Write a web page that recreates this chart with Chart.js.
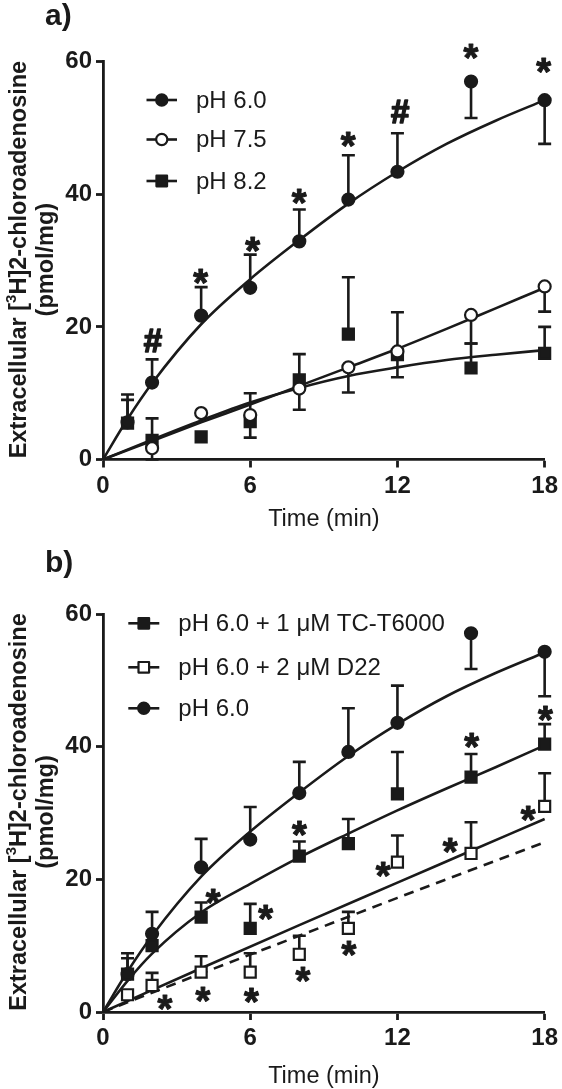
<!DOCTYPE html>
<html><head><meta charset="utf-8">
<script src="https://cdn.jsdelivr.net/npm/chart.js@4.4.1/dist/chart.umd.min.js"></script>
<style>
html,body{margin:0;padding:0;background:#fff;overflow:hidden;}
#wrap{position:relative;width:562px;height:1089px;overflow:hidden;background:#fff;}
.pn{position:absolute;left:0;width:562px;}
</style></head><body>
<div id="wrap">
  <div class="pn" style="top:0;height:545px"><canvas id="ca" width="562" height="545"></canvas></div>
  <div class="pn" style="top:545px;height:550px"><canvas id="cb" width="562" height="550"></canvas></div>
</div>
<script>
const FONT = "'Liberation Sans', Arial, Helvetica, sans-serif";
const INK = '#1a1a1a';

// ---------- shared ticks ----------
const xTicks = [0, 6, 12, 18];
const yTicks = [0, 20, 40, 60];

// ---------- panel a ----------
const timeA = [1, 2, 4, 6, 8, 10, 12, 15, 18];
const aPH60 = [5.6, 11.6, 21.7, 25.9, 32.9, 39.2, 43.4, 57.0, 54.2];
const aPH60Err = [9.8, 15.1, 26.0, 30.9, 37.7, 45.9, 49.2, 51.5, 47.6];
const timeA75 = [2, 4, 6, 8, 10, 12, 15, 18];
const aPH75 = [1.7, 7.0, 6.7, 10.7, 13.9, 16.3, 21.8, 26.1];
const aPH75Err = [0.0, null, 10.0, 7.5, 10.1, 22.2, 17.5, 22.3];
const aPH82 = [5.5, 2.9, 3.4, 5.7, 12.0, 18.9, 15.8, 13.8, 16.0];
const aPH82Err = [9.0, 6.2, null, 3.3, 15.9, 27.5, 12.4, 17.5, 20.0];
// fitted curves
const fitX60 = [0, 1, 2, 4, 6, 8, 10, 12, 14, 16, 18];
const aFit60 = [0, 6.1, 11.5, 20.4, 27.2, 33.1, 38.6, 43.4, 47.6, 51.1, 54.2];
const fitXa = [0, 2, 4, 6, 8, 10, 12, 14, 16, 18];
const aFit75 = [0, 2.8, 5.6, 8.3, 11.1, 13.9, 16.7, 19.7, 22.8, 25.9];
const aFit82 = [0, 3.0, 5.9, 8.6, 10.8, 12.6, 13.9, 15.0, 15.8, 16.5];
// significance marks
const annAX = [2.03, 3.98, 6.1, 8.0, 10.0, 12.1, 15.0, 17.96];
const annAY = [18.0, 27.6, 32.4, 39.6, 48.2, 52.5, 61.5, 59.5];
const annAT = ['#', '*', '*', '*', '*', '#', '*', '*'];
const legendA = ['pH 6.0', 'pH 7.5', 'pH 8.2'];

// ---------- panel b ----------
const timeB = [1, 2, 4, 6, 8, 10, 12, 15, 18];
const bPH60 = [5.7, 11.8, 21.8, 26.0, 33.0, 39.2, 43.6, 57.1, 54.3];
const bPH60Err = [8.85, 15.1, 26.1, 30.9, 37.7, 45.8, 49.2, 51.7, 47.6];
const bTC = [5.7, 10.0, 14.3, 12.6, 23.5, 25.4, 32.9, 35.4, 40.4];
const bTCErr = [8.1, null, 16.5, 16.3, 25.7, 29.1, 39.2, 38.9, 43.4];
const bD22 = [2.6, 4.0, 6.0, 6.0, 8.7, 12.6, 22.6, 23.9, 31.0];
const bD22Err = [null, 5.9, 8.4, 8.85, 11.5, 15.1, 26.6, 28.6, 36.0];
const bFit60 = [0, 6.1, 11.5, 20.4, 27.2, 33.1, 38.6, 43.4, 47.6, 51.1, 54.2];
const fitXTC = [0, 1, 2, 4, 6, 8, 10, 12, 14, 16, 18];
const bFitTC = [0, 4.7, 8.8, 15.0, 19.3, 23.3, 26.9, 30.4, 33.7, 36.9, 40.2];
const fitXb = [0, 4, 8, 12, 15, 18];
const bFitD22 = [0, 6.6, 13.1, 19.5, 24.3, 29.1];
const bFitDash = [0, 5.8, 11.5, 17.2, 21.4, 25.6];
const annBX = [18.03, 15.03, 17.33, 8.01, 4.49, 6.63, 14.15, 11.42, 10.03, 8.15, 6.05, 4.08, 2.53];
const annBY = [45.0, 41.0, 30.0, 27.7, 17.4, 15.0, 25.1, 21.5, 9.6, 5.6, 2.5, 2.7, 1.4];
const annBT = ['*', '*', '*', '*', '*', '*', '*', '*', '*', '*', '*', '*', '*'];
const legendB = ['pH 6.0 + 1 \u03BCM TC-T6000', 'pH 6.0 + 2 \u03BCM D22', 'pH 6.0'];

// ---------- helpers ----------
const pts = (xs, ys) => xs.map((x, i) => ({x: x, y: ys[i]}));

function pointSet(xs, ys, style, filled) {
  return {
    type: 'line', data: pts(xs, ys), showLine: false, order: 1, clip: false,
    pointStyle: style, pointRadius: style === 'rect' ? 7.8 : 6.0,
    pointBackgroundColor: filled ? INK : '#ffffff', pointBorderColor: INK,
    pointBorderWidth: 2.2, pointHoverRadius: 0
  };
}
function curveSet(xs, ys, dash) {
  return {
    type: 'line', data: pts(xs, ys), order: 10, clip: false,
    borderColor: INK, borderWidth: 2.6, pointRadius: 0, fill: false,
    cubicInterpolationMode: 'monotone', borderDash: dash || []
  };
}
function drawMarker(ctx, style, filled, x, y) {
  ctx.beginPath();
  if (style === 'circle') ctx.arc(x, y, 5.6, 0, Math.PI * 2);
  else ctx.rect(x - 5.3, y - 5.3, 10.6, 10.6);
  ctx.fillStyle = filled ? INK : '#fff';
  ctx.fill();
  ctx.lineWidth = 2.2; ctx.strokeStyle = INK; ctx.stroke();
}

function panelPlugin(cfg) {
  return {
    id: 'panel' + cfg.key,
    beforeDatasetsDraw(chart) {
      const {ctx} = chart; const sx = chart.scales.x, sy = chart.scales.y;
      ctx.save();
      ctx.strokeStyle = INK; ctx.lineWidth = 2.6;
      cfg.errors.forEach(e => {
        e.t.forEach((t, i) => {
          const end = e.end[i]; if (end === null || end === undefined) return;
          const px = sx.getPixelForValue(t), py = sy.getPixelForValue(e.v[i]), pe = sy.getPixelForValue(end);
          ctx.beginPath(); ctx.moveTo(px, py); ctx.lineTo(px, pe);
          ctx.moveTo(px - 6.5, pe); ctx.lineTo(px + 6.5, pe); ctx.stroke();
        });
      });
      ctx.restore();
    },
    afterDraw(chart) {
      const {ctx} = chart; const sx = chart.scales.x, sy = chart.scales.y;
      ctx.save();
      ctx.fillStyle = INK; ctx.strokeStyle = INK;
      // significance marks
      cfg.annX.forEach((ax, i) => {
        const t = cfg.annT[i];
        ctx.font = 'bold ' + (t === '*' ? 38 : 33) + 'px ' + FONT;
        ctx.textAlign = 'left'; ctx.textBaseline = 'alphabetic';
        const m = ctx.measureText(t);
        const cx = sx.getPixelForValue(ax), cy = sy.getPixelForValue(cfg.annY[i]);
        const bx = cx - (m.actualBoundingBoxRight - m.actualBoundingBoxLeft) / 2;
        const by = cy + (m.actualBoundingBoxAscent - m.actualBoundingBoxDescent) / 2;
        ctx.lineWidth = t === '#' ? 1.6 : 1.0; ctx.lineJoin = 'round';
        ctx.fillText(t, bx, by);
        ctx.strokeText(t, bx, by);
      });
      // legend
      const L = cfg.legend;
      L.rows.forEach((ry, i) => {
        ctx.strokeStyle = INK; ctx.lineWidth = 2.6;
        ctx.beginPath(); ctx.moveTo(L.x0, ry); ctx.lineTo(L.x1, ry); ctx.stroke();
        drawMarker(ctx, L.styles[i], L.filled[i], (L.x0 + L.x1) / 2, ry);
        ctx.fillStyle = INK;
        ctx.font = '24px ' + FONT; ctx.textAlign = 'left'; ctx.textBaseline = 'middle';
        ctx.fillText(L.labels[i], L.tx, ry + 1);
      });
      // y title
      const ca = chart.chartArea;
      const cyT = (ca.top + ca.bottom) / 2 - 1;
      ctx.save();
      ctx.translate(cfg.yTitleX1, cyT);
      ctx.rotate(-Math.PI / 2);
      ctx.textBaseline = 'alphabetic'; ctx.textAlign = 'left';
      const big = 'bold 23.5px ' + FONT, small = 'bold 15px ' + FONT;
      const p1 = 'Extracellular [', p2 = '3', p3 = 'H]2-chloroadenosine';
      ctx.font = big; const w1 = ctx.measureText(p1).width, w3 = ctx.measureText(p3).width;
      ctx.font = small; const w2 = ctx.measureText(p2).width;
      let x0 = -(w1 + w2 + w3) / 2;
      ctx.font = big; ctx.fillText(p1, x0, 0);
      ctx.font = small; ctx.fillText(p2, x0 + w1, -10);
      ctx.font = big; ctx.fillText(p3, x0 + w1 + w2, 0);
      ctx.restore();
      ctx.save();
      ctx.translate(cfg.yTitleX2, cyT);
      ctx.rotate(-Math.PI / 2);
      ctx.font = 'bold 23.5px ' + FONT; ctx.textAlign = 'center'; ctx.textBaseline = 'alphabetic';
      ctx.fillText('(pmol/mg)', 0, 0);
      ctx.restore();
      // panel label
      ctx.font = 'bold 30px ' + FONT; ctx.textAlign = 'left'; ctx.textBaseline = 'alphabetic';
      ctx.fillText(cfg.label, 45, cfg.labelY);
      ctx.restore();
    }
  };
}

function scalesCfg(axisH) {
  return {
    x: {
      type: 'linear', min: 0, max: 18,
      afterBuildTicks: s => { s.ticks = xTicks.map(v => ({value: v})); },
      border: {display: true, color: INK, width: 2.8},
      grid: {display: true, drawOnChartArea: false, drawTicks: true, tickLength: 8, tickWidth: 2.8, tickColor: INK},
      ticks: {color: INK, font: {family: FONT, size: 24, weight: 'bold'}, padding: 4, maxRotation: 0, autoSkip: false},
      title: {display: true, text: 'Time (min)', color: INK, font: {family: FONT, size: 23.5, weight: 'normal'}, padding: {top: 0, bottom: 0}},
      afterFit: s => { s.height = axisH; }
    },
    y: {
      type: 'linear', min: 0, max: 60,
      afterBuildTicks: s => { s.ticks = yTicks.map(v => ({value: v})); },
      border: {display: true, color: INK, width: 2.8},
      grid: {display: true, drawOnChartArea: false, drawTicks: true, tickLength: 7, tickWidth: 2.8, tickColor: INK},
      ticks: {color: INK, font: {family: FONT, size: 24, weight: 'bold'}, padding: 4},
      afterFit: s => { s.width = 103; }
    }
  };
}

// ---------- panel a chart ----------
new Chart(document.getElementById('ca'), {
  data: {datasets: [
    pointSet(timeA, aPH60, 'circle', true),
    pointSet(timeA75, aPH75, 'circle', false),
    pointSet(timeA, aPH82, 'rect', true),
    curveSet(fitX60, aFit60),
    curveSet(fitXa, aFit75),
    curveSet(fitXa, aFit82)
  ]},
  options: {
    responsive: false, animation: false, devicePixelRatio: 1,
    layout: {padding: {top: 61.7, right: 13.3, bottom: 11.2, left: 0}},
    plugins: {legend: {display: false}, tooltip: {enabled: false}},
    scales: scalesCfg(74.3)
  },
  plugins: [panelPlugin({
    key: 'a',
    errors: [
      {t: timeA, v: aPH82, end: aPH82Err},
      {t: timeA75, v: aPH75, end: aPH75Err},
      {t: timeA, v: aPH60, end: aPH60Err}
    ],
    annX: annAX, annY: annAY, annT: annAT,
    legend: {rows: [100, 139.5, 181], x0: 146.5, x1: 177, tx: 196, labels: legendA,
             styles: ['circle', 'circle', 'rect'], filled: [true, false, true]},
    yTitleX1: 25.5, yTitleX2: 52.5, label: 'a)', labelY: 25
  })]
});

// ---------- panel b chart ----------
new Chart(document.getElementById('cb'), {
  data: {datasets: [
    pointSet(timeB, bPH60, 'circle', true),
    pointSet(timeB, bTC, 'rect', true),
    pointSet(timeB, bD22, 'rect', false),
    curveSet(fitX60, bFit60),
    curveSet(fitXTC, bFitTC),
    curveSet(fitXb, bFitD22),
    curveSet(fitXb, bFitDash, [10, 7])
  ]},
  options: {
    responsive: false, animation: false, devicePixelRatio: 1,
    layout: {padding: {top: 69, right: 13.3, bottom: 4.5, left: 0}},
    plugins: {legend: {display: false}, tooltip: {enabled: false}},
    scales: scalesCfg(78.5)
  },
  plugins: [panelPlugin({
    key: 'b',
    errors: [
      {t: timeB, v: bD22, end: bD22Err},
      {t: timeB, v: bTC, end: bTCErr},
      {t: timeB, v: bPH60, end: bPH60Err}
    ],
    annX: annBX, annY: annBY, annT: annBT,
    legend: {rows: [78.3, 122.3, 163.3], x0: 128.3, x1: 159.3, tx: 178.3, labels: legendB,
             styles: ['rect', 'rect', 'circle'], filled: [true, false, true]},
    yTitleX1: 25.5, yTitleX2: 52.5, label: 'b)', labelY: 27
  })]
});
</script>
</body></html>
